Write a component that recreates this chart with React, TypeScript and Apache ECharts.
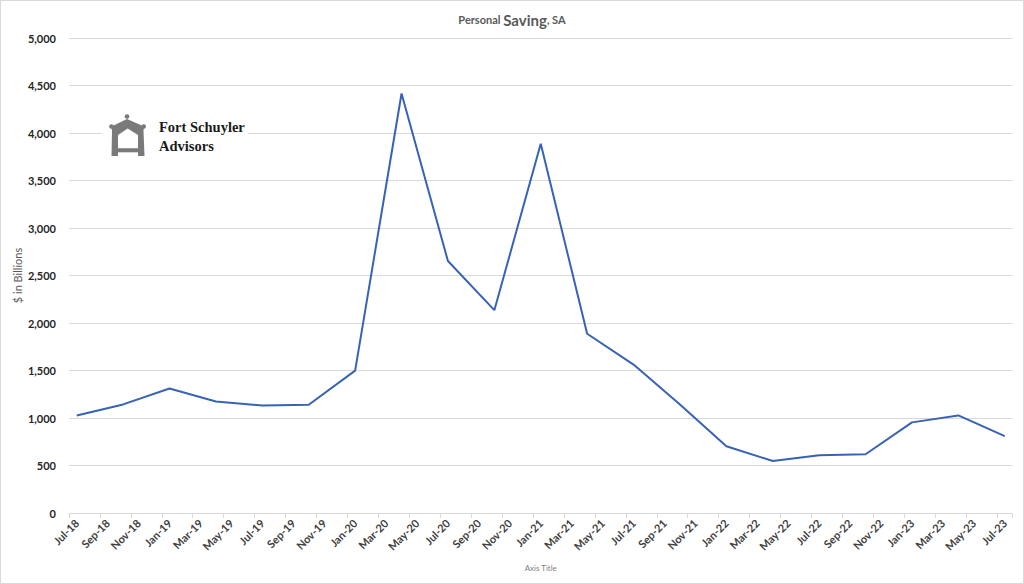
import React, { useEffect, useRef } from "react";
import * as echarts from "echarts";

const monthNames = ["Jan", "Feb", "Mar", "Apr", "May", "Jun", "Jul", "Aug", "Sep", "Oct", "Nov", "Dec"];
// monthly axis from Jul-18 to Jul-23
const startYear = 2018;
const startMonth = 6; // July (0-based)
const monthCount = 61;
const categories: string[] = [];
for (let i = 0; i < monthCount; i++) {
  const m = (startMonth + i) % 12;
  const y = startYear + Math.floor((startMonth + i) / 12);
  categories.push(`${monthNames[m]}-${String(y).slice(2)}`);
}

const observationDates = [
  "Jul-18", "Oct-18", "Jan-19", "Apr-19", "Jul-19", "Oct-19", "Jan-20", "Apr-20", "Jul-20", "Oct-20",
  "Jan-21", "Apr-21", "Jul-21", "Oct-21", "Jan-22", "Apr-22", "Jul-22", "Oct-22", "Jan-23", "Apr-23", "Jul-23",
];
const savingValues = [
  1027, 1143, 1310, 1174, 1132, 1140, 1499, 4416, 2652, 2135,
  3886, 1887, 1562, 1143, 702, 548, 608, 618, 954, 1027, 810,
];

const FONT = "Lato, 'Open Sans', sans-serif";

export default function App() {
  const ref = useRef<HTMLDivElement>(null);
  useEffect(() => {
    if (!ref.current) return;
    const chart = echarts.init(ref.current, undefined, { renderer: "svg" });
    const seriesData = observationDates.map((d, i) => [d, savingValues[i]]);
    chart.setOption({
      animation: false,
      backgroundColor: "#ffffff",
      textStyle: { fontFamily: FONT },
      title: {
        left: "center",
        top: 6,
        text: "{a|Personal }{b|Saving}{a|, SA}",
        textStyle: {
          rich: {
            a: { fontSize: 11, color: "#595959", fontFamily: FONT },
            b: { fontSize: 15, color: "#595959", fontFamily: FONT },
          },
        },
      },
      grid: { left: 68, right: 10.5, top: 37, bottom: 70, containLabel: false },
      xAxis: {
        type: "category",
        data: categories,
        boundaryGap: true,
        name: "Axis Title",
        nameLocation: "middle",
        nameGap: 51,
        nameTextStyle: { fontSize: 8, color: "#7f7f7f", fontFamily: FONT },
        axisLine: { show: true, lineStyle: { color: "#d9d9d9", width: 1 } },
        axisTick: { show: true, interval: 1, alignWithLabel: false, length: 5, lineStyle: { color: "#d9d9d9" } },
        axisLabel: {
          interval: 1,
          rotate: 45,
          margin: 8,
          fontSize: 11,
          fontWeight: "bold",
          color: "#404040",
          fontFamily: FONT,
        },
        splitLine: { show: false },
      },
      yAxis: {
        type: "value",
        min: 0,
        max: 5000,
        interval: 500,
        name: "$ in Billions",
        nameLocation: "middle",
        nameGap: 46,
        nameRotate: 90,
        nameMoveOverlap: false,
        nameTextStyle: { fontSize: 11, color: "#595959", fontFamily: FONT },
        axisLine: { show: false },
        axisTick: { show: false },
        axisLabel: {
          margin: 13,
          fontSize: 11,
          fontWeight: "bold",
          color: "#262626",
          fontFamily: FONT,
          formatter: (v: number) => v.toLocaleString("en-US"),
        },
        splitLine: { show: true, lineStyle: { color: "#d9d9d9", width: 1 } },
      },
      series: [
        {
          type: "line",
          data: seriesData,
          showSymbol: false,
          symbol: "none",
          lineStyle: { color: "#3863b5", width: 2 },
          itemStyle: { color: "#3863b5" },
        },
      ],
      graphic: [
        {
          type: "group",
          z: 100,
          children: [
            { type: "rect", z: 100, shape: { x: 101, y: 108, width: 146, height: 52 }, style: { fill: "#ffffff" } },
            {
              type: "polygon",
              z: 101,
              shape: {
                points: [
                  [126, 118], [143, 125.5], [142.5, 130], [143.5, 155], [110.5, 155], [111, 130], [110.5, 125.5],
                ],
              },
              style: { fill: "#7a7a7a" },
            },
            { type: "circle", z: 101, shape: { cx: 126, cy: 115.5, r: 2.3 }, style: { fill: "#7a7a7a" } },
            { type: "circle", z: 101, shape: { cx: 110.5, cy: 125.5, r: 2.3 }, style: { fill: "#7a7a7a" } },
            { type: "circle", z: 101, shape: { cx: 142.7, cy: 125.5, r: 2.3 }, style: { fill: "#7a7a7a" } },
            {
              type: "polygon",
              z: 102,
              shape: { points: [[126.7, 127.5], [137, 134], [137, 147.3], [117, 147.3], [117, 134]] },
              style: { fill: "#ffffff" },
            },
            { type: "rect", z: 102, shape: { x: 117, y: 151.3, width: 20, height: 4 }, style: { fill: "#ffffff" } },
          ],
        },
        {
          type: "text",
          z: 103,
          left: 158,
          top: 116,
          style: {
            text: "Fort Schuyler\nAdvisors",
            font: "bold 14.5px 'Liberation Serif', 'DejaVu Serif', serif",
            fill: "#1a1a1a",
            lineHeight: 19,
          },
        },
      ],
    });
    return () => chart.dispose();
  }, []);
  return (
    <div
      ref={ref}
      style={{
        position: "absolute",
        left: 0,
        top: 0,
        width: 1024,
        height: 584,
        boxSizing: "border-box",
        border: "1px solid #d9d9d9",
        background: "#fff",
      }}
    />
  );
}
